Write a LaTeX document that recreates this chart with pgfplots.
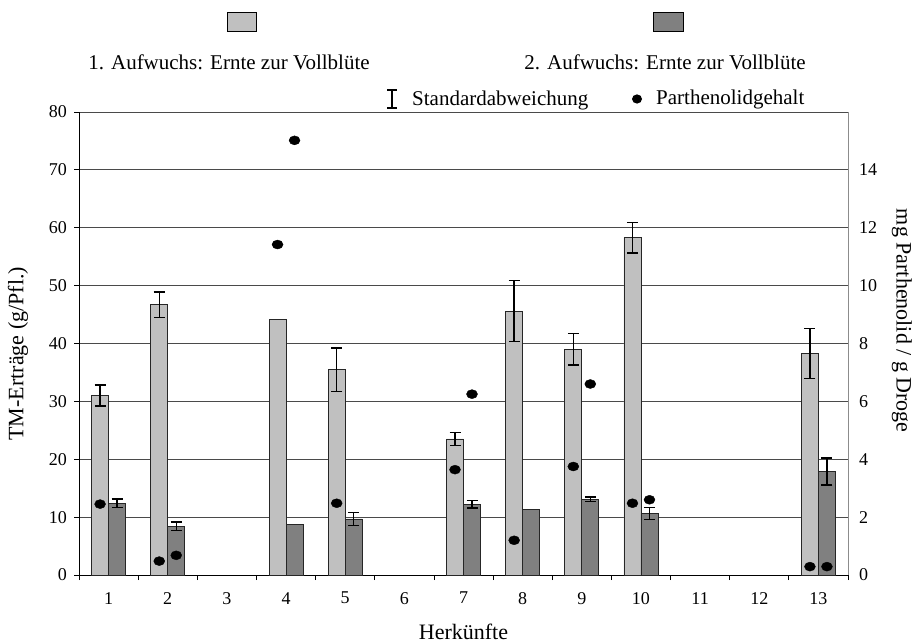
\documentclass[border=0pt]{standalone}
\usepackage{pgfplots}
\usepackage{pgfplotstable}
\pgfplotsset{compat=1.18}
\usepackage{fontspec}
\setmainfont{Liberation Serif}

\definecolor{barlight}{HTML}{C0C0C0}
\definecolor{bardark}{HTML}{808080}
\definecolor{gridc}{HTML}{4A4A4A}

% Dry-matter yield (g/plant), 1st and 2nd growth, with standard deviation
\pgfplotstableread{
x  y     e
1  31.0  1.8
2  46.7  2.2
5  35.5  3.75
7  23.5  1.15
8  45.6  5.3
9  39.0  2.7
10 58.3  2.65
13 38.3  4.3
}\firsterr
\pgfplotstableread{
x  y
4  44.2
}\firstnoerr
\pgfplotstableread{
x  y     e
1  12.4  0.7
2  8.4   0.75
5  9.7   1.1
7  12.2  0.65
9  13.1  0.35
10 10.65 1.05
13 17.9  2.35
}\seconderr
\pgfplotstableread{
x  y
4  8.8
8  11.3
}\secondnoerr
% Parthenolide content (mg / g drug)
\pgfplotstableread{
x   y
1   2.45
2   0.48
4   11.42
5   2.48
7   3.64
8   1.2
9   3.75
10  2.48
13  0.29
}\partfirst
\pgfplotstableread{
x   y
2   0.68
4   15.02
7   6.25
9   6.6
10  2.6
13  0.29
}\partsecond

% half the distance between the two bar centres, in category units
\def\barOff{0.1437}
\newcommand\lblfont{\fontsize{21}{24}\selectfont}
\newcommand\axlblfont{\fontsize{22}{25}\selectfont}
\newcommand\tickfont{\fontsize{18}{21}\selectfont}

\begin{document}
\lblfont
\begin{tikzpicture}[x=1pt,y=1pt]
\useasboundingbox (0,0) rectangle (917,643);

\pgfplotsset{
  barbase/.style={ybar, bar width=17pt, bar shift=0pt, draw=black!85, line width=0.7pt},
  errstyle/.style={error bars/.cd, y dir=both, y explicit,
    error bar style={line width=1.4pt, black},
    error mark options={rotate=90, mark size=5.5pt, line width=1.4pt, black}},
}

\begin{axis}[
  at={(79pt,68pt)}, anchor=south west,
  width=769pt, height=463pt, scale only axis,
  xmin=0.5, xmax=13.5, ymin=0, ymax=80,
  axis x line*=bottom, axis y line*=left,
  axis line style={black, line width=0.8pt},
  xtick={1,...,13},
  xticklabels={1,2,3,4,5,6,7,8,9,10,11,12,13},
  minor xtick={0.5,1.5,...,13.5},
  major x tick style={draw=none},
  minor x tick style={black, line width=0.8pt},
  ytick={0,10,...,80},
  major y tick style={black, line width=0.8pt},
  tick align=outside,
  major tick length=5pt, minor tick length=5pt,
  ymajorgrids, grid style={gridc, line width=0.9pt},
  /pgf/number format/assume math mode=true,
  tick label style={font=\tickfont},
  xticklabel style={yshift=-5pt},
  ylabel={TM-Erträge (g/Pfl.)},
  ylabel style={at={(axis description cs:-0.0793,0.478)}, anchor=center},
  xlabel={Herkünfte},
  xlabel style={at={(axis description cs:0.5,-0.123)}, anchor=center, font=\lblfont},
  label style={font=\axlblfont},
  clip=false,
]
\addplot[barbase, fill=barlight, errstyle]
  table[x expr=\thisrow{x}-\barOff, y=y, y error=e] {\firsterr};
\addplot[barbase, fill=barlight] table[x expr=\thisrow{x}-\barOff, y=y] {\firstnoerr};
\addplot[barbase, fill=bardark, errstyle]
  table[x expr=\thisrow{x}+\barOff, y=y, y error=e] {\seconderr};
\addplot[barbase, fill=bardark] table[x expr=\thisrow{x}+\barOff, y=y] {\secondnoerr};
\end{axis}

\begin{axis}[
  at={(79pt,68pt)}, anchor=south west,
  width=769pt, height=463pt, scale only axis,
  xmin=0.5, xmax=13.5, ymin=0, ymax=16,
  axis x line=none, axis y line*=right,
  axis line style={black!45, line width=0.8pt},
  ytick={0,2,...,14},
  major tick length=0pt,
  /pgf/number format/assume math mode=true,
  tick label style={font=\tickfont},
  yticklabel style={xshift=4pt},
  ylabel={mg Parthenolid / g Droge},
  ylabel style={at={(axis description cs:1.0702,0.549)}, anchor=center, rotate=180},
  label style={font=\axlblfont},
  clip=false,
]
\addplot[only marks, mark=*, mark size=5pt, mark options={black, xscale=1.1, yscale=0.9}]
  table[x expr=\thisrow{x}-\barOff, y=y] {\partfirst};
\addplot[only marks, mark=*, mark size=5pt, mark options={black, xscale=1.1, yscale=0.9}]
  table[x expr=\thisrow{x}+\barOff, y=y] {\partsecond};
\end{axis}

% legend
\draw[black, line width=0.8pt, fill=barlight] (227,612) rectangle (256,631);
\node at (229,581) {1. Aufwuchs: Ernte zur Vollblüte};
\draw[black, line width=0.8pt, fill=bardark] (653,612) rectangle (683,631);
\node at (665,581) {2. Aufwuchs: Ernte zur Vollblüte};
\draw[black, line width=1.1pt] (392,535) -- (392,553) (387,535) -- (397,535) (387,553) -- (397,553);
\node[anchor=west] at (405,543) {Standardabweichung};
\fill[black] (637,544) ellipse (5 and 4.6);
\node[anchor=west] at (649,544) {Parthenolidgehalt};
\end{tikzpicture}
\end{document}
